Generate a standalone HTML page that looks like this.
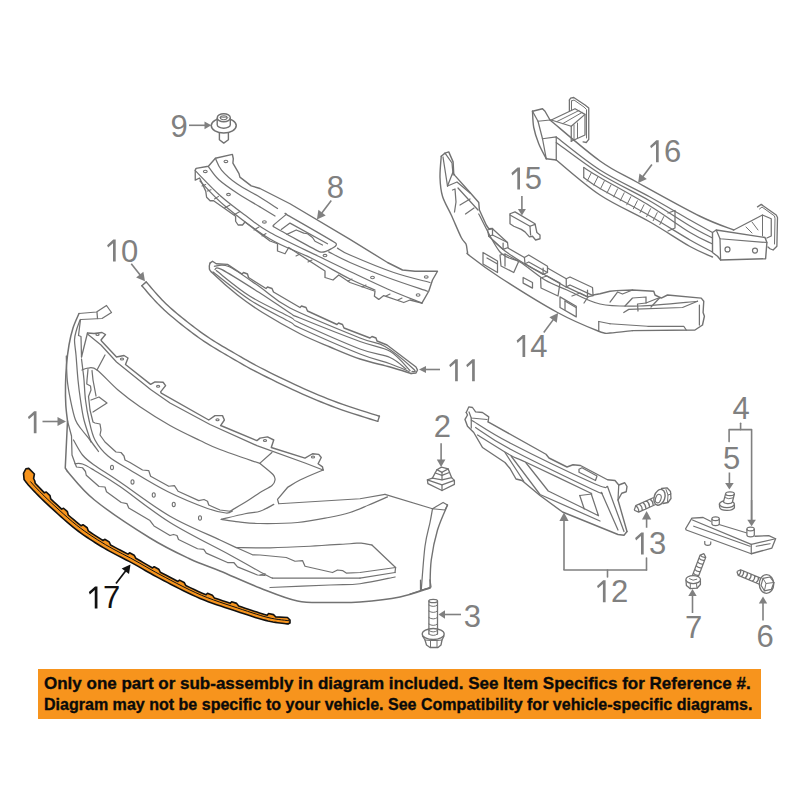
<!DOCTYPE html>
<html><head><meta charset="utf-8">
<style>
html,body{margin:0;padding:0;background:#fff;width:800px;height:800px;overflow:hidden}
svg{position:absolute;left:0;top:0}
#banner{position:absolute;left:38px;top:669px;width:723px;height:50px;background:#F7941D}
#banner div{position:absolute;left:6px;font:bold 17px "Liberation Sans",sans-serif;color:#0a0a0a;-webkit-text-stroke:0.35px #0a0a0a;white-space:nowrap;transform-origin:0 0}
</style></head><body>
<svg width="800" height="800" viewBox="0 0 800 800">
<path d="M42.5,421.5 L58.5,421.5" stroke="#808080" stroke-width="1.6" fill="none"/>
<path d="M66,421.5 L57.5,426.1 L57.5,416.9 Z" fill="#808080"/>
<path d="M116,583.5 L125.95,570.46" stroke="#111" stroke-width="1.7" fill="none"/>
<path d="M130.5,564.5 L129,574.05 L121.69,568.47 Z" fill="#111"/>
<path d="M189,125.3 L205.5,125.3" stroke="#808080" stroke-width="1.6" fill="none"/>
<path d="M211.3,125.3 L204.5,129.2 L204.5,121.4 Z" fill="#808080"/>
<path d="M131.25,263.75 L140.37,275.35" stroke="#808080" stroke-width="1.6" fill="none"/>
<path d="M145,281.25 L136.13,277.41 L143.37,271.72 Z" fill="#808080"/>
<path d="M331.25,200.6 L321.45,213.44" stroke="#808080" stroke-width="1.6" fill="none"/>
<path d="M316.9,219.4 L318.4,209.85 L325.71,215.43 Z" fill="#808080"/>
<path d="M25.9,468.75 L28.75,468.4 L34.4,474 L33.6,478.5 L34.8,481 L35.2,483.2 L36.39,484.47 L37.68,485.85 L39.07,487.32 L40.56,488.87 L44.38,492.84 L46.28,492.03 L50.02,495.64 L50.72,498.95 L54.06,502.04 L56.59,504.39 L61.67,509.11 L63.53,508.23 L67.41,511.7 L68.23,514.98 L70.81,517.23 L73.72,519.72 L76.58,522.08 L81.21,525.79 L82.97,524.72 L87.19,527.76 L88.35,530.94 L90.25,532.21 L93,534.05 L95.75,535.86 L98.51,537.62 L101.28,539.35 L103.04,540.49 L104.7,539.27 L109.16,541.93 L110.6,544.99 L115.01,547.39 L117.77,548.86 L120.55,550.3 L123.34,551.74 L127.97,554.11 L129.57,552.8 L134.16,555.24 L135.74,558.23 L140.23,560.81 L142.88,562.34 L145.49,563.85 L148.12,565.38 L152.56,567.97 L154.17,566.69 L158.73,569.19 L160.27,572.2 L162.7,573.47 L166.2,575.31 L169.92,577.27 L173.79,579.3 L177.93,581.49 L179.5,580.16 L184.14,582.51 L185.78,585.47 L190.12,587.6 L194.23,589.56 L198.27,591.42 L202.22,593.15 L206.08,594.79 L207.5,593.3 L212.36,595.13 L214.31,597.89 L218.43,599.33 L222.55,600.75 L226.63,602.11 L230.32,603.34 L231.66,601.77 L236.61,603.38 L238.69,606.05 L241.76,607.08 L245.08,608.2 L248.24,609.26 L251.25,610.26 L254.13,611.2 L256.88,612.09 L259.53,612.92 L262.08,613.69 L264.54,614.4 L267.24,615.28 L268.4,613.58 L273.5,614.62 L275.86,617.05 L275.6,616.9 L287.5,617.5 L290,620 L290,623.1 L287.5,624 L288.5,624 L287.31,623.85 L285.83,623.68 L284.09,623.5 L282.14,623.28 L280,623.04 L277.72,622.75 L275.35,622.41 L272.91,622.01 L270.45,621.54 L268,621 L265.56,620.39 L263.07,619.72 L260.53,619 L257.92,618.22 L255.22,617.39 L252.42,616.5 L249.52,615.55 L246.49,614.56 L243.32,613.5 L240,612.4 L236.49,611.24 L232.77,610.04 L228.88,608.78 L224.86,607.47 L220.75,606.1 L216.58,604.68 L212.38,603.2 L208.19,601.66 L204.05,600.06 L200,598.4 L195.95,596.64 L191.81,594.75 L187.63,592.76 L183.43,590.7 L179.26,588.61 L175.14,586.5 L171.13,584.42 L167.24,582.39 L163.52,580.44 L160,578.6 L156.71,576.86 L153.62,575.19 L150.7,573.57 L147.91,571.99 L145.21,570.45 L142.57,568.93 L139.96,567.43 L137.33,565.93 L134.66,564.42 L131.9,562.9 L129.09,561.39 L126.27,559.92 L123.46,558.47 L120.64,557.03 L117.83,555.59 L115.01,554.14 L112.2,552.66 L109.38,551.13 L106.57,549.55 L103.75,547.9 L100.93,546.2 L98.12,544.48 L95.3,542.73 L92.49,540.94 L89.67,539.11 L86.86,537.23 L84.04,535.29 L81.23,533.3 L78.41,531.24 L75.6,529.1 L72.74,526.83 L69.8,524.41 L66.81,521.88 L63.82,519.27 L60.85,516.63 L57.93,514 L55.11,511.42 L52.4,508.94 L49.86,506.58 L47.5,504.4 L45.31,502.35 L43.24,500.38 L41.28,498.47 L39.43,496.65 L37.7,494.9 L36.07,493.24 L34.55,491.66 L33.14,490.18 L31.82,488.79 L30.6,487.5 L29.5,486.31 L28.53,485.22 L27.68,484.22 L26.94,483.31 L26.29,482.49 L25.73,481.76 L25.24,481.11 L24.82,480.53 L24.44,480.03 L24.1,479.6 L23.5,473.4Z" fill="#F7941D" stroke="#111" stroke-width="1.6" stroke-linejoin="round" stroke-linecap="round"/>
<path d="M30.64,481.75 C31.1,482.27 32.29,483.67 33.41,484.88 C34.52,486.09 35.86,487.5 37.31,489.01 C38.76,490.53 40.36,492.19 42.12,493.95 C43.89,495.72 45.77,497.56 47.91,499.6 C50.05,501.64 52.38,503.79 54.96,506.17 C57.53,508.54 60.48,511.27 63.35,513.84 C66.22,516.4 69.31,519.15 72.19,521.55 C75.07,523.95 77.84,526.16 80.63,528.26 C83.42,530.36 86.16,532.27 88.93,534.17 C91.7,536.06 94.48,537.85 97.26,539.61 C100.04,541.38 102.85,543.12 105.62,544.75 C108.4,546.39 111.13,547.94 113.91,549.44 C116.69,550.95 119.48,552.34 122.29,553.8 C125.1,555.26 127.97,556.7 130.78,558.2 C133.58,559.7 136.4,561.28 139.1,562.81 C141.8,564.33 144.28,565.81 146.99,567.35 C149.69,568.9 152.3,570.41 155.33,572.07 C158.35,573.73 161.59,575.43 165.16,577.31 C168.73,579.19 172.75,581.33 176.75,583.38 C180.75,585.43 185.05,587.64 189.15,589.61 C193.25,591.58 197.29,593.47 201.35,595.19 C205.42,596.92 209.45,598.44 213.55,599.94 C217.65,601.44 221.94,602.85 225.94,604.2 C229.94,605.54 233.95,606.8 237.55,607.99 C241.15,609.18 244.44,610.29 247.56,611.32 C250.67,612.35 253.5,613.29 256.23,614.15 C258.97,615.01 261.49,615.79 263.97,616.47 C266.45,617.16 268.75,617.76 271.12,618.25 C273.49,618.75 275.95,619.12 278.17,619.44 C280.39,619.77 282.66,619.98 284.45,620.2 C286.24,620.41 288.18,620.64 288.92,620.73" fill="none" stroke="#111" stroke-width="1.0" stroke-linejoin="round" stroke-linecap="round"/>
<path d="M79,313.5 C78,315.92 74.67,322.75 73,328 C71.33,333.25 70.08,338.83 69,345 C67.92,351.17 67.08,358.33 66.5,365 C65.92,371.67 65.62,378.33 65.5,385 C65.38,391.67 65.47,399 65.8,405 C66.13,411 67.22,418.33 67.5,421" fill="none" stroke="#727272" stroke-width="1.5" stroke-linejoin="round" stroke-linecap="round"/>
<path d="M67.5,421 L65.25,468 L67.5,471.5" fill="none" stroke="#727272" stroke-width="1.5" stroke-linejoin="round" stroke-linecap="round"/>
<path d="M67.5,471.5 C72,476.25 80.75,488.92 94.5,500 C108.25,511.08 134.08,528.17 150,538 C165.92,547.83 178.33,553.5 190,559 C201.67,564.5 208.33,566.17 220,571 C231.67,575.83 247.08,583 260,588 C272.92,593 285.83,598.58 297.5,601 C309.17,603.42 319.58,602.33 330,602.5 C340.42,602.67 348.33,602.92 360,602 C371.67,601.08 388.33,599.33 400,597 C411.67,594.67 425,589.5 430,588" fill="none" stroke="#727272" stroke-width="1.5" stroke-linejoin="round" stroke-linecap="round"/>
<path d="M79,313.5 L96.5,312 L106.5,305.5 L111.5,312.5 L102,318.5 L81,319.5" fill="none" stroke="#727272" stroke-width="1.25" stroke-linejoin="round" stroke-linecap="round"/>
<path d="M97,312.5 L97.5,318.5" fill="none" stroke="#727272" stroke-width="1.25" stroke-linejoin="round" stroke-linecap="round"/>
<path d="M80.5,319.5 L78.5,335.5 L81,336.5 L81.5,357" fill="none" stroke="#727272" stroke-width="1.25" stroke-linejoin="round" stroke-linecap="round"/>
<path d="M87.5,333 L81.5,357" fill="none" stroke="#727272" stroke-width="1.25" stroke-linejoin="round" stroke-linecap="round"/>
<path d="M80,320 C79.42,321.67 77.42,326.67 76.5,330 C75.58,333.33 74.58,335.83 74.5,340 C74.42,344.17 75.42,348.33 76,355 C76.58,361.67 77.25,372.5 78,380 C78.75,387.5 79.5,393.33 80.5,400 C81.5,406.67 82.25,413 84,420 C85.75,427 89.83,438.33 91,442" fill="none" stroke="#727272" stroke-width="1.25" stroke-linejoin="round" stroke-linecap="round"/>
<path d="M66.3,356 C66.46,360 66.55,372.67 67.25,380 C67.95,387.33 69.12,393.33 70.5,400 C71.88,406.67 73.58,415 75.5,420 C77.42,425 79.58,426.67 82,430 C84.42,433.33 87.25,436.42 90,440 C92.75,443.58 97.08,449.58 98.5,451.5" fill="none" stroke="#727272" stroke-width="1.25" stroke-linejoin="round" stroke-linecap="round"/>
<path d="M81.5,359 C81.75,361 82.58,367.5 83,371 C83.42,374.5 83.58,375.17 84,380 C84.42,384.83 84.67,393.33 85.5,400 C86.33,406.67 87.42,413.33 89,420 C90.58,426.67 91.83,434 95,440 C98.17,446 102.17,451 108,456 C113.83,461 120.08,464.08 130,470 C139.92,475.92 154.58,485.08 167.5,491.5 C180.42,497.92 197.75,504.92 207.5,508.5 C217.25,512.08 221.83,512.58 226,513 C230.17,513.42 231.42,511.33 232.5,511" fill="none" stroke="#727272" stroke-width="1.25" stroke-linejoin="round" stroke-linecap="round"/>
<path d="M67.5,421 L71.5,436 L72,455 L75,463.25 L76.5,467 L82.5,467.75 L85.5,471.5 L86.25,475.25 L99,486.5 L105,487 L106.5,491.75 L121.25,502.5 L126.9,503.6 L128.75,508 L150,520.5 L153,524.5 L154,526 L170,535.5 L173.5,534.5 L177,535.5 L178.5,539.5 L197.5,548.75 L203.75,549.4 L206.25,553.1 L227.5,562.5 L233.75,562.5 L237.5,566.9 L257.5,575 L265,575.5" fill="none" stroke="#727272" stroke-width="1.25" stroke-linejoin="round" stroke-linecap="round"/>
<path d="M88,369.5 L87,380 L86.75,384 L90.5,386 L91,390 L88.5,396.5 L90,410 L93,422 L95,423 L100,424 L101,430 L100,435 L105,442 L116,452 L121,452.5 L124,456 L125,460 L130,462.5 L142.5,470 L148.75,470.6 L150.6,476.25 L168.75,486.25 L174.4,485.6 L178.1,491.25 L198.75,500.6 L204,499.5 L207.5,501.25 L208.75,505 L220,510 L230,511.25" fill="none" stroke="#727272" stroke-width="1.25" stroke-linejoin="round" stroke-linecap="round"/>
<path d="M230,511.25 C233.12,509.38 243.75,503.12 248.75,500 C253.75,496.88 256.12,494.92 260,492.5 C263.88,490.08 269.5,487.58 272,485.5 C274.5,483.42 274.83,481.83 275,480 C275.17,478.17 275.5,477.25 273,474.5 C270.5,471.75 262.17,465.33 260,463.5" fill="none" stroke="#727272" stroke-width="1.25" stroke-linejoin="round" stroke-linecap="round"/>
<path d="M82,370 C83,369.67 85.5,368 88,368 C90.5,368 92,366.33 97,370 C102,373.67 110.83,383.88 118,390 C125.17,396.12 131.33,400.83 140,406.75 C148.67,412.67 160,419.88 170,425.5 C180,431.12 191.67,436.5 200,440.5 C208.33,444.5 210,445.67 220,449.5 C230,453.33 253.33,461.17 260,463.5" fill="none" stroke="#727272" stroke-width="1.25" stroke-linejoin="round" stroke-linecap="round"/>
<path d="M105,355 L97,370" fill="none" stroke="#727272" stroke-width="1.25" stroke-linejoin="round" stroke-linecap="round"/>
<path d="M92,370.5 L93,380 L96,396" fill="none" stroke="#727272" stroke-width="1.25" stroke-linejoin="round" stroke-linecap="round"/>
<path d="M91,400 L99,397 L107,403 L93,412" fill="none" stroke="#727272" stroke-width="1.25" stroke-linejoin="round" stroke-linecap="round"/>
<path d="M87.5,333 L94,333.5 L102,332.5 L105.5,334.5 L101,340 L101.5,341 L116.5,357 L124,355.5 L128,358 L125.5,364.5 L150.6,384.4 L155,381.9 L163.1,382.25 L165.6,385.6 L160.6,391.9 L161.25,393.1 L208.75,420 L215,415.6 L222.5,415.6 L224.4,420 L220.6,425.6 L222.5,426.25 L256.9,440.6 L260,438.1 L267.5,436.9 L273.75,440 L271.25,447.5 L305,458.1 L312.5,453.75 L318.75,454.4 L321.25,457.5 L318.1,463.75 L322.5,466.9 L323.1,470" fill="none" stroke="#727272" stroke-width="1.4" stroke-linejoin="round" stroke-linecap="round"/>
<ellipse cx="97.5" cy="334.5" rx="1.6" ry="1.0" fill="none" stroke="#727272" stroke-width="1.1"/>
<ellipse cx="122" cy="359" rx="1.6" ry="1.0" fill="none" stroke="#727272" stroke-width="1.1"/>
<ellipse cx="158.1" cy="386.25" rx="1.6" ry="1.0" fill="none" stroke="#727272" stroke-width="1.1"/>
<ellipse cx="217.5" cy="419.75" rx="1.6" ry="1.0" fill="none" stroke="#727272" stroke-width="1.1"/>
<ellipse cx="265" cy="440.5" rx="1.6" ry="1.0" fill="none" stroke="#727272" stroke-width="1.1"/>
<ellipse cx="313" cy="457" rx="1.6" ry="1.0" fill="none" stroke="#727272" stroke-width="1.1"/>
<path d="M87.5,334 L101,345 L116.5,362 L150.6,389.4 L170,403 L210,424.5 L256.9,445.6 L305,463 L323.1,470" fill="none" stroke="#727272" stroke-width="1.25" stroke-linejoin="round" stroke-linecap="round"/>
<path d="M260,463.1 L271.9,452.5" fill="none" stroke="#727272" stroke-width="1.25" stroke-linejoin="round" stroke-linecap="round"/>
<path d="M323.1,470 C319.25,471.67 305.93,477.08 300,480 C294.07,482.92 289.58,486.25 287.5,487.5" fill="none" stroke="#727272" stroke-width="1.25" stroke-linejoin="round" stroke-linecap="round"/>
<path d="M287.5,487.5 L277.5,499.4 L278.75,503.75 L360,498.75 L385,494.4" fill="none" stroke="#727272" stroke-width="1.25" stroke-linejoin="round" stroke-linecap="round"/>
<path d="M385,494.4 L432.5,508.75 L443.1,502.5 L447.5,505 L445,510 L432.5,508.75" fill="none" stroke="#727272" stroke-width="1.25" stroke-linejoin="round" stroke-linecap="round"/>
<path d="M221.25,519.4 C225.21,518.46 238.54,515.11 245,513.75 C251.46,512.39 255.21,512.81 260,511.25 C264.79,509.69 271.46,505.54 273.75,504.4" fill="none" stroke="#727272" stroke-width="1.25" stroke-linejoin="round" stroke-linecap="round"/>
<path d="M221.25,519.4 C224.17,519.82 232.29,521.22 238.75,521.9 C245.21,522.58 250.21,523.4 260,523.5 C269.79,523.6 286.04,523.5 297.5,522.5 C308.96,521.5 320,519.17 328.75,517.5 C337.5,515.83 343.33,514.58 350,512.5 C356.67,510.42 362.5,507.6 368.75,505 C375,502.4 384.38,498.25 387.5,496.9" fill="none" stroke="#727272" stroke-width="1.25" stroke-linejoin="round" stroke-linecap="round"/>
<path d="M432.5,508.75 C432.08,511.04 431.25,516.25 430,522.5 C428.75,528.75 426.46,535 425,546.25 C423.54,557.5 421.88,582.71 421.25,590" fill="none" stroke="#727272" stroke-width="1.25" stroke-linejoin="round" stroke-linecap="round"/>
<path d="M447.5,505 C445.83,509.17 440.21,520.83 437.5,530 C434.79,539.17 432.5,550.42 431.25,560 C430,569.58 430.21,582.92 430,587.5" fill="none" stroke="#727272" stroke-width="1.4" stroke-linejoin="round" stroke-linecap="round"/>
<path d="M421.25,590 L430,588" fill="none" stroke="#727272" stroke-width="1.25" stroke-linejoin="round" stroke-linecap="round"/>
<path d="M73.5,440 C75,442.5 79.12,450.88 82.5,455 C85.88,459.12 87.5,460.25 93.75,464.75 C100,469.25 107.29,473.42 120,482 C132.71,490.58 153.33,506.58 170,516.25 C186.67,525.92 209,534.79 220,540 C231,545.21 233.33,546.25 236,547.5" fill="none" stroke="#727272" stroke-width="1.25" stroke-linejoin="round" stroke-linecap="round"/>
<path d="M236,547.5 C241.67,547.55 257.67,548.01 270,547.8 C282.33,547.59 296.67,546.92 310,546.25 C323.33,545.58 341.46,544.27 350,543.75 C358.54,543.23 357.6,542.89 361.25,543.1 C364.9,543.31 370.12,544.68 371.9,545" fill="none" stroke="#727272" stroke-width="1.25" stroke-linejoin="round" stroke-linecap="round"/>
<path d="M75,463.6 C76.25,463.67 79.38,462.93 82.5,464 C85.62,465.07 87.5,466.25 93.75,470 C100,473.75 107.29,477.75 120,486.5 C132.71,495.25 151.67,511.08 170,522.5 C188.33,533.92 214.17,546.33 230,555 C245.83,563.67 257.92,570.65 265,574.5 C272.08,578.35 271.25,577.5 272.5,578.1" fill="none" stroke="#727272" stroke-width="1.25" stroke-linejoin="round" stroke-linecap="round"/>
<path d="M272.5,578.1 L360,578.1" fill="none" stroke="#727272" stroke-width="1.25" stroke-linejoin="round" stroke-linecap="round"/>
<path d="M260,575 L265,573.75" fill="none" stroke="#727272" stroke-width="1.25" stroke-linejoin="round" stroke-linecap="round"/>
<path d="M236.25,547.5 L252.5,554.8 L260,555 L286.25,557.5 L295,561.25 L302.5,560.6 L305,566.25 L332.5,572.5 L337.5,570 L342.5,570.6 L346.25,573.1 L360,572.5 L395.6,567.5" fill="none" stroke="#727272" stroke-width="1.25" stroke-linejoin="round" stroke-linecap="round"/>
<path d="M371.9,545 L395.6,567.5 L395,572.5" fill="none" stroke="#727272" stroke-width="1.25" stroke-linejoin="round" stroke-linecap="round"/>
<path d="M360,578.1 L395,572.5" fill="none" stroke="#727272" stroke-width="1.25" stroke-linejoin="round" stroke-linecap="round"/>
<path d="M270,587.5 C280,587.08 315,585.62 330,585 C345,584.38 349.17,585.08 360,583.75 C370.83,582.42 389.17,578.12 395,577" fill="none" stroke="#727272" stroke-width="1.25" stroke-linejoin="round" stroke-linecap="round"/>
<ellipse cx="112" cy="467.5" rx="1.5" ry="2.2" fill="none" stroke="#727272" stroke-width="1.1"/>
<ellipse cx="132.5" cy="481.9" rx="1.5" ry="2.2" fill="none" stroke="#727272" stroke-width="1.1"/>
<ellipse cx="153.75" cy="495" rx="1.5" ry="2.2" fill="none" stroke="#727272" stroke-width="1.1"/>
<ellipse cx="173.75" cy="504.4" rx="1.5" ry="2.2" fill="none" stroke="#727272" stroke-width="1.1"/>
<ellipse cx="200" cy="518" rx="1.5" ry="2.2" fill="none" stroke="#727272" stroke-width="1.1"/>
<ellipse cx="223.75" cy="125.6" rx="12.5" ry="7.5" fill="none" stroke="#727272" stroke-width="1.5"/>
<path d="M217.2,118 L217.2,124.7 A6.55,3.5 0 0 0 230.3,124.7 L230.3,118" fill="#fff" stroke="#727272" stroke-width="1.4"/>
<ellipse cx="223.75" cy="117.8" rx="6.55" ry="4" fill="none" stroke="#727272" stroke-width="1.4"/>
<ellipse cx="223.75" cy="117.8" rx="3.4" ry="1.9" fill="none" stroke="#727272" stroke-width="1.1"/>
<path d="M219.4,133.2 L219.4,139.7 L223.75,143.1 L228.4,139.7 L228.4,133.2" fill="none" stroke="#727272" stroke-width="1.4" stroke-linejoin="round" stroke-linecap="round"/>
<path d="M146.25,281.9 L147.15,282.96 L148.36,284.38 L149.78,286.07 L151.38,287.95 L153.06,289.92 L154.77,291.89 L156.44,293.78 L158,295.5 L159.43,297.05 L160.79,298.51 L162.13,299.92 L163.48,301.32 L164.9,302.74 L166.43,304.22 L168.12,305.8 L170,307.5 L172.12,309.36 L174.44,311.36 L176.91,313.45 L179.5,315.59 L182.15,317.76 L184.81,319.91 L187.45,322 L190,324 L192.47,325.9 L194.88,327.75 L197.28,329.56 L199.69,331.34 L202.13,333.11 L204.65,334.89 L207.26,336.68 L210,338.5 L212.89,340.36 L215.9,342.24 L219.01,344.13 L222.19,346.03 L225.41,347.93 L228.63,349.81 L231.84,351.67 L235,353.5 L238.02,355.26 L240.9,356.94 L243.72,358.59 L246.56,360.22 L249.53,361.9 L252.7,363.64 L256.16,365.5 L260,367.5 L264.3,369.69 L269,372.06 L274.01,374.55 L279.22,377.1 L284.52,379.67 L289.82,382.19 L295.02,384.62 L300,386.9 L304.78,389.04 L309.45,391.11 L314.05,393.11 L318.63,395.05 L323.23,396.95 L327.87,398.82 L332.62,400.66 L337.5,402.5 L342.81,404.4 L348.65,406.39 L354.73,408.4 L360.79,410.35 L366.56,412.18 L371.77,413.82 L376.14,415.2 L379.4,416.25" fill="none" stroke="#727272" stroke-width="1.4" stroke-linejoin="round" stroke-linecap="round"/>
<path d="M141.84,285.67 L142.74,286.71 L143.93,288.12 L145.37,289.81 L146.98,291.7 L148.68,293.69 L150.43,295.69 L152.15,297.63 L153.76,299.39 L155.22,300.96 L156.61,302.44 L157.98,303.89 L159.4,305.34 L160.88,306.82 L162.49,308.37 L164.25,310.01 L166.2,311.76 L168.38,313.67 L170.74,315.7 L173.26,317.81 L175.88,319.98 L178.56,322.17 L181.26,324.34 L183.93,326.46 L186.52,328.47 L189.02,330.39 L191.46,332.26 L193.9,334.09 L196.35,335.9 L198.86,337.7 L201.43,339.51 L204.11,341.34 L206.92,343.2 L209.88,345.1 L212.95,347.01 L216.11,348.93 L219.33,350.85 L222.58,352.75 L225.82,354.64 L229.04,356.5 L232.2,358.32 L235.21,360.07 L238.09,361.75 L240.93,363.4 L243.81,365.05 L246.82,366.75 L250.05,368.52 L253.57,370.4 L257.47,372.42 L261.8,374.62 L266.54,377 L271.57,379.49 L276.81,382.05 L282.14,384.63 L287.48,387.16 L292.71,389.61 L297.73,391.9 L302.54,394.05 L307.25,396.13 L311.89,398.14 L316.52,400.1 L321.16,402.01 L325.87,403.89 L330.67,405.76 L335.63,407.61 L341.02,409.54 L346.92,411.54 L353.05,413.56 L359.14,415.51 L364.93,417.35 L370.14,418.98 L374.5,420.35 L377.75,421.39" fill="none" stroke="#727272" stroke-width="1.4" stroke-linejoin="round" stroke-linecap="round"/>
<path d="M379.4,416.25 L377.75,421.39" fill="none" stroke="#727272" stroke-width="1.4" stroke-linejoin="round" stroke-linecap="round"/>
<path d="M146.25,281.9 L141.84,285.67" fill="none" stroke="#727272" stroke-width="1.4" stroke-linejoin="round" stroke-linecap="round"/>
<path d="M210,263.1 L212.5,261.25 L216.25,263.75 L227.5,264.4 L242,274 L243.5,272.5 L247.5,274 L248.5,277.5 L266,288.5 L267.5,287 L272,288.5 L273.5,292 L300,307.5 L301.5,306 L306,307.5 L307.5,311 L337,324.5 L338.5,323 L342.5,324.5 L344,328 L370,338 L372,336.5 L376,338 L377,341 L387,345 L416,367 L417.5,370 L416,373 L411,373.5" fill="none" stroke="#727272" stroke-width="1.4" stroke-linejoin="round" stroke-linecap="round"/>
<path d="M411,373.5 C407.5,372.42 398.5,369.42 390,367 C381.5,364.58 370,362.33 360,359 C350,355.67 340,351.21 330,347 C320,342.79 311.25,339.5 300,333.75 C288.75,328 272.92,318.96 262.5,312.5 C252.08,306.04 245.83,301.57 237.5,295 C229.17,288.43 217.18,277.68 212.5,273.1 C207.82,268.52 209.82,269.17 209.4,267.5 C208.98,265.83 209.9,263.83 210,263.1" fill="none" stroke="#727272" stroke-width="1.4" stroke-linejoin="round" stroke-linecap="round"/>
<path d="M214.4,266.25 C216.79,266.29 221.15,263.04 228.75,266.5 C236.35,269.96 249.79,280.08 260,287 C270.21,293.92 273.33,299.5 290,308 C306.67,316.5 344.17,331.58 360,338 C375.83,344.42 376.08,341.33 385,346.5 C393.92,351.67 409,364.83 413.5,369 C418,373.17 412.25,371.08 412,371.5" fill="none" stroke="#727272" stroke-width="1.25" stroke-linejoin="round" stroke-linecap="round"/>
<path d="M215,269.4 C216.17,269.43 214.5,265.67 222,269.6 C229.5,273.53 248.67,285.77 260,293 C271.33,300.23 283.33,308.83 290,313 C296.67,317.17 288.33,313.25 300,318 C311.67,322.75 345,335.96 360,341.5 C375,347.04 381.67,346.42 390,351.25 C398.33,356.08 406.67,367.29 410,370.5" fill="none" stroke="#727272" stroke-width="1.25" stroke-linejoin="round" stroke-linecap="round"/>
<path d="M216.25,270.6 C221.88,274.88 237.71,288.52 250,296.25 C262.29,303.98 281.67,312.54 290,317 C298.33,321.46 288.33,317.67 300,323 C311.67,328.33 345,343.25 360,349 C375,354.75 382.33,354.17 390,357.5 C397.67,360.83 403.33,367.08 406,369" fill="none" stroke="#727272" stroke-width="1.25" stroke-linejoin="round" stroke-linecap="round"/>
<path d="M213,272 C219.17,276.67 237.17,291.67 250,300 C262.83,308.33 281.67,317.33 290,322 C298.33,326.67 288.33,322.67 300,328 C311.67,333.33 345,348.04 360,354 C375,359.96 381.83,360.83 390,363.75 C398.17,366.67 405.83,370.21 409,371.5" fill="none" stroke="#727272" stroke-width="1.25" stroke-linejoin="round" stroke-linecap="round"/>
<path d="M440,369.5 L425,369.5" stroke="#808080" stroke-width="1.6" fill="none"/>
<path d="M419,369.5 L426,365.9 L426,373.1 Z" fill="#808080"/>
<path d="M195.25,170.1 L196.1,168.4 L208.4,166.2 L215.4,158.3 L232.4,154.4 L233.3,158.75 L232.9,163.1 L239,173.6 L239.9,177.1 L251.25,185.9 L260,188.5 L290,203.75 L350,239.4 L387.5,262.5 L402.5,270 L415,271.25 L437.5,271.25 L432.5,280 L428.75,291.25 L421.9,303.1" fill="none" stroke="#727272" stroke-width="1.4" stroke-linejoin="round" stroke-linecap="round"/>
<path d="M215.4,158.3 C216.42,160.27 217.86,165.8 221.5,170.1 C225.14,174.4 230.83,179.57 237.25,184.1 C243.67,188.62 253.29,193.18 260,197.25 C266.71,201.32 274.58,206.62 277.5,208.5" fill="none" stroke="#727272" stroke-width="1.25" stroke-linejoin="round" stroke-linecap="round"/>
<path d="M208.4,166.6 C210.15,168.79 213.95,175.22 218.9,179.75 C223.85,184.28 231.25,189.22 238.1,193.75 C244.95,198.28 253.85,203.19 260,206.9 C266.15,210.61 272.5,214.48 275,216" fill="none" stroke="#727272" stroke-width="1.25" stroke-linejoin="round" stroke-linecap="round"/>
<path d="M195.25,170.6 C199.47,174.83 211.99,188.35 220.6,196 C229.21,203.65 238.67,210.42 246.9,216.5 C255.13,222.58 257.82,225.75 270,232.5 C282.18,239.25 306.67,250.5 320,257 C333.33,263.5 338.75,266.17 350,271.5 C361.25,276.83 375.52,283.73 387.5,289 C399.48,294.27 416.17,300.75 421.9,303.1" fill="none" stroke="#727272" stroke-width="1.25" stroke-linejoin="round" stroke-linecap="round"/>
<path d="M337.5,248.1 C339.58,249.25 340.62,250.93 350,255 C359.38,259.07 380.42,267.92 393.75,272.5 C407.08,277.08 423.96,280.83 430,282.5" fill="none" stroke="#727272" stroke-width="1.25" stroke-linejoin="round" stroke-linecap="round"/>
<path d="M328.75,251.9 C332.29,253.67 340.21,258.23 350,262.5 C359.79,266.77 374.58,272.71 387.5,277.5 C400.42,282.29 420.83,288.96 427.5,291.25" fill="none" stroke="#727272" stroke-width="1.25" stroke-linejoin="round" stroke-linecap="round"/>
<path d="M200,181 C204.17,185.17 213.33,196.33 225,206 C236.67,215.67 255.67,230.33 270,239 C284.33,247.67 297.67,251.33 311,258 C324.33,264.67 339.33,273.67 350,279 C360.67,284.33 370.83,288.17 375,290" fill="none" stroke="#727272" stroke-width="1.25" stroke-linejoin="round" stroke-linecap="round"/>
<ellipse cx="205.3" cy="171.4" rx="1.9" ry="1.2" fill="none" stroke="#727272" stroke-width="1.1"/>
<ellipse cx="225.9" cy="161.4" rx="1.9" ry="1.2" fill="none" stroke="#727272" stroke-width="1.1"/>
<ellipse cx="228.5" cy="194.6" rx="1.9" ry="1.2" fill="none" stroke="#727272" stroke-width="1.1"/>
<ellipse cx="264.4" cy="221.9" rx="1.9" ry="1.2" fill="none" stroke="#727272" stroke-width="1.1"/>
<ellipse cx="325" cy="255.6" rx="1.9" ry="1.2" fill="none" stroke="#727272" stroke-width="1.1"/>
<ellipse cx="372.5" cy="277.5" rx="1.9" ry="1.2" fill="none" stroke="#727272" stroke-width="1.1"/>
<ellipse cx="426.25" cy="276.9" rx="1.9" ry="1.2" fill="none" stroke="#727272" stroke-width="1.1"/>
<ellipse cx="418.1" cy="295" rx="1.9" ry="1.2" fill="none" stroke="#727272" stroke-width="1.1"/>
<path d="M286.25,214.4 C289.54,216.31 332.6,240.81 335.6,243.1 C338.6,245.39 332.29,248.16 331.25,248.75 C330.21,249.34 323.75,253.32 320,251.9 C316.25,250.48 278.08,229.29 275,227.5 C271.92,225.71 273,225.87 273.75,225 C274.5,224.13 285.42,215.11 286.25,214.4 C287.08,213.69 282.96,212.49 286.25,214.4Z" fill="none" stroke="#727272" stroke-width="1.25" stroke-linejoin="round" stroke-linecap="round"/>
<path d="M281.25,229.4 L290,223.1 L327.5,243.75" fill="none" stroke="#727272" stroke-width="1.25" stroke-linejoin="round" stroke-linecap="round"/>
<path d="M286.9,234.4 L296.25,230 L303.75,233.1 L307.5,233.75 L312.5,237.5 L315,241.25 L322.5,245" fill="none" stroke="#727272" stroke-width="1.25" stroke-linejoin="round" stroke-linecap="round"/>
<path d="M195.25,170.6 L195.25,180.2 L199.6,178 L205.75,191.1 L206.6,197.25 L210.1,200.75 L213.6,200.75 L235.6,216.25 L235.6,221.25 L238.1,225 L242.5,225 L245,222 L270,241 L277.5,243.75 L277.5,251 L285,253.75 L288.75,247.5 L325,271 L325,277.5 L333,280 L338.75,275 L350,282.5 L375,291.25 L374.4,296.25 L378.75,299.4 L383.75,295.6 L403.75,302.5 L410,300 L421.9,303.1" fill="none" stroke="#727272" stroke-width="1.3" stroke-linejoin="round" stroke-linecap="round"/>
<path d="M202,186 L205.6,184.6" fill="none" stroke="#727272" stroke-width="1.1" stroke-linejoin="round" stroke-linecap="round"/>
<path d="M207.5,191 L211,189.8" fill="none" stroke="#727272" stroke-width="1.1" stroke-linejoin="round" stroke-linecap="round"/>
<path d="M214.5,199 L218.5,196.4" fill="none" stroke="#727272" stroke-width="1.1" stroke-linejoin="round" stroke-linecap="round"/>
<path d="M224.5,208 L230,205" fill="none" stroke="#727272" stroke-width="1.1" stroke-linejoin="round" stroke-linecap="round"/>
<path d="M234.5,214.5 L240,211.5" fill="none" stroke="#727272" stroke-width="1.1" stroke-linejoin="round" stroke-linecap="round"/>
<path d="M254,230 L259,227" fill="none" stroke="#727272" stroke-width="1.1" stroke-linejoin="round" stroke-linecap="round"/>
<path d="M262,236 L266,233.5" fill="none" stroke="#727272" stroke-width="1.1" stroke-linejoin="round" stroke-linecap="round"/>
<path d="M296,256 L300,254" fill="none" stroke="#727272" stroke-width="1.1" stroke-linejoin="round" stroke-linecap="round"/>
<path d="M308,262 L312,260" fill="none" stroke="#727272" stroke-width="1.1" stroke-linejoin="round" stroke-linecap="round"/>
<path d="M348,281 L352,279" fill="none" stroke="#727272" stroke-width="1.1" stroke-linejoin="round" stroke-linecap="round"/>
<path d="M362,287 L366,285" fill="none" stroke="#727272" stroke-width="1.1" stroke-linejoin="round" stroke-linecap="round"/>
<path d="M386,296 L390,294" fill="none" stroke="#727272" stroke-width="1.1" stroke-linejoin="round" stroke-linecap="round"/>
<path d="M398,300 L402,298" fill="none" stroke="#727272" stroke-width="1.1" stroke-linejoin="round" stroke-linecap="round"/>
<path d="M532.5,111.25 L542.5,108.75 L545,111.25 L550,120" fill="none" stroke="#727272" stroke-width="1.4" stroke-linejoin="round" stroke-linecap="round"/>
<path d="M532.5,111.25 C532.71,113.96 532.71,122.08 533.75,127.5 C534.79,132.92 536.67,138.54 538.75,143.75 C540.83,148.96 545,156.25 546.25,158.75" fill="none" stroke="#727272" stroke-width="1.4" stroke-linejoin="round" stroke-linecap="round"/>
<path d="M546.25,158.75 L556.25,160" fill="none" stroke="#727272" stroke-width="1.4" stroke-linejoin="round" stroke-linecap="round"/>
<path d="M542.5,138.75 L556.25,136.9 L556.25,160" fill="none" stroke="#727272" stroke-width="1.25" stroke-linejoin="round" stroke-linecap="round"/>
<path d="M542.5,138.75 L546.25,158.75" fill="none" stroke="#727272" stroke-width="1.25" stroke-linejoin="round" stroke-linecap="round"/>
<path d="M532.5,111.25 L538,121.25 L550,120" fill="none" stroke="#727272" stroke-width="1.25" stroke-linejoin="round" stroke-linecap="round"/>
<path d="M538,121.25 L542.5,138.75" fill="none" stroke="#727272" stroke-width="1.25" stroke-linejoin="round" stroke-linecap="round"/>
<path d="M550,120 C558.33,126.83 585.42,150.58 600,161 C614.58,171.42 620.83,173.29 637.5,182.5 C654.17,191.71 683.96,208.33 700,216.25 C716.04,224.17 728.12,227.71 733.75,230" fill="none" stroke="#727272" stroke-width="1.4" stroke-linejoin="round" stroke-linecap="round"/>
<path d="M556.25,137 C563.54,142.5 584.38,160 600,170 C615.62,180 635,188.67 650,197 C665,205.33 679.58,214.08 690,220 C700.42,225.92 708.75,230.42 712.5,232.5" fill="none" stroke="#727272" stroke-width="1.25" stroke-linejoin="round" stroke-linecap="round"/>
<path d="M556.25,142.5 C563.54,147.71 584.38,164 600,173.75 C615.62,183.5 635,192.29 650,201 C665,209.71 679.58,219.83 690,226 C700.42,232.17 708.75,236 712.5,238" fill="none" stroke="#727272" stroke-width="1.25" stroke-linejoin="round" stroke-linecap="round"/>
<path d="M583.75,167.5 C586.46,169.17 588.96,171.08 600,177.5 C611.04,183.92 635,196.83 650,206 C665,215.17 679.58,226.17 690,232.5 C700.42,238.83 708.75,242.08 712.5,244" fill="none" stroke="#727272" stroke-width="1.25" stroke-linejoin="round" stroke-linecap="round"/>
<path d="M583.75,177.5 C586.46,179.33 588.96,182.08 600,188.5 C611.04,194.92 635,207.42 650,216 C665,224.58 679.58,234 690,240 C700.42,246 708.75,250 712.5,252" fill="none" stroke="#727272" stroke-width="1.25" stroke-linejoin="round" stroke-linecap="round"/>
<path d="M556.25,160 C563.54,165.83 584.38,184.67 600,195 C615.62,205.33 635,213.42 650,222 C665,230.58 679.58,240.67 690,246.5 C700.42,252.33 708.75,255.25 712.5,257" fill="none" stroke="#727272" stroke-width="1.4" stroke-linejoin="round" stroke-linecap="round"/>
<path d="M583.75,167.5 L583.75,177.5" fill="none" stroke="#727272" stroke-width="1.25" stroke-linejoin="round" stroke-linecap="round"/>
<path d="M591.2,173.05 L587.2,181.05" fill="none" stroke="#727272" stroke-width="1.0" stroke-linejoin="round" stroke-linecap="round"/>
<path d="M597.8,177.01 L593.8,185.01" fill="none" stroke="#727272" stroke-width="1.0" stroke-linejoin="round" stroke-linecap="round"/>
<path d="M604.4,180.97 L600.4,188.97" fill="none" stroke="#727272" stroke-width="1.0" stroke-linejoin="round" stroke-linecap="round"/>
<path d="M611,184.93 L607,192.93" fill="none" stroke="#727272" stroke-width="1.0" stroke-linejoin="round" stroke-linecap="round"/>
<path d="M617.6,188.89 L613.6,196.89" fill="none" stroke="#727272" stroke-width="1.0" stroke-linejoin="round" stroke-linecap="round"/>
<path d="M624.2,192.85 L620.2,200.85" fill="none" stroke="#727272" stroke-width="1.0" stroke-linejoin="round" stroke-linecap="round"/>
<path d="M630.8,196.81 L626.8,204.81" fill="none" stroke="#727272" stroke-width="1.0" stroke-linejoin="round" stroke-linecap="round"/>
<path d="M637.4,200.77 L633.4,208.77" fill="none" stroke="#727272" stroke-width="1.0" stroke-linejoin="round" stroke-linecap="round"/>
<path d="M644,204.73 L640,212.73" fill="none" stroke="#727272" stroke-width="1.0" stroke-linejoin="round" stroke-linecap="round"/>
<path d="M650.6,208.69 L646.6,216.69" fill="none" stroke="#727272" stroke-width="1.0" stroke-linejoin="round" stroke-linecap="round"/>
<path d="M657.2,212.65 L653.2,220.65" fill="none" stroke="#727272" stroke-width="1.0" stroke-linejoin="round" stroke-linecap="round"/>
<path d="M663.8,216.61 L659.8,224.61" fill="none" stroke="#727272" stroke-width="1.0" stroke-linejoin="round" stroke-linecap="round"/>
<path d="M668,213 L675,210.5 L675,228 L668,231" fill="none" stroke="#727272" stroke-width="1.25" stroke-linejoin="round" stroke-linecap="round"/>
<path d="M569.4,100 L570.6,98.1 L573.75,97.5 L585,105 L588.75,108.1 L588.75,139.4 L586.25,142.5 L583.1,141.9" fill="none" stroke="#727272" stroke-width="1.3" stroke-linejoin="round" stroke-linecap="round"/>
<path d="M571.5,101 L574,100 L584,107 L586.5,109.5 L586.5,138" fill="none" stroke="#727272" stroke-width="1.0" stroke-linejoin="round" stroke-linecap="round"/>
<path d="M551.25,120 L575,108.75 L585,114.4 L585,135 L571.25,141.25" fill="none" stroke="#727272" stroke-width="1.25" stroke-linejoin="round" stroke-linecap="round"/>
<path d="M551.25,120 L571.25,126.25 L571.25,141.25" fill="none" stroke="#727272" stroke-width="1.25" stroke-linejoin="round" stroke-linecap="round"/>
<path d="M569.4,100 L569.4,111" fill="none" stroke="#727272" stroke-width="1.3" stroke-linejoin="round" stroke-linecap="round"/>
<path d="M571.5,101 L571.5,110" fill="none" stroke="#727272" stroke-width="1.0" stroke-linejoin="round" stroke-linecap="round"/>
<path d="M557,121.5 L579,110.5" fill="none" stroke="#727272" stroke-width="1.0" stroke-linejoin="round" stroke-linecap="round"/>
<path d="M563,123.5 L582,112.5" fill="none" stroke="#727272" stroke-width="1.0" stroke-linejoin="round" stroke-linecap="round"/>
<path d="M571.25,126.25 L585,114.4" fill="none" stroke="#727272" stroke-width="1.25" stroke-linejoin="round" stroke-linecap="round"/>
<path d="M574,125 L574,139.5" fill="none" stroke="#727272" stroke-width="1.0" stroke-linejoin="round" stroke-linecap="round"/>
<path d="M577.5,123 L577.5,138" fill="none" stroke="#727272" stroke-width="1.0" stroke-linejoin="round" stroke-linecap="round"/>
<path d="M712.5,232.5 L716.25,230 L765,237.5 L766.9,242.5 L765.6,258.75 L720.6,260 L717.5,256.25 L712.5,252.5 L712.5,232.5" fill="none" stroke="#727272" stroke-width="1.4" stroke-linejoin="round" stroke-linecap="round"/>
<path d="M716.25,230 L720,238.75 L766.9,242.5" fill="none" stroke="#727272" stroke-width="1.25" stroke-linejoin="round" stroke-linecap="round"/>
<path d="M720,238.75 L720.6,260" fill="none" stroke="#727272" stroke-width="1.25" stroke-linejoin="round" stroke-linecap="round"/>
<ellipse cx="727.5" cy="249.4" rx="2.5" ry="2.5" fill="none" stroke="#727272" stroke-width="1.2"/>
<ellipse cx="755" cy="250.6" rx="2.5" ry="2.5" fill="none" stroke="#727272" stroke-width="1.2"/>
<path d="M757.5,206.9 L761.25,204.4 L776.25,215 L777.5,217.5 L776.9,246.25 L773.1,250 L770,248.75 L768,247" fill="none" stroke="#727272" stroke-width="1.3" stroke-linejoin="round" stroke-linecap="round"/>
<path d="M759.5,209 L762,207 L774.5,216 L775,218.5 L774.5,244" fill="none" stroke="#727272" stroke-width="1.0" stroke-linejoin="round" stroke-linecap="round"/>
<path d="M733.75,230 L762.5,215 L771.25,218.75 L771.25,236 L766.9,238" fill="none" stroke="#727272" stroke-width="1.25" stroke-linejoin="round" stroke-linecap="round"/>
<path d="M746,227 L752,233" fill="none" stroke="#727272" stroke-width="1.0" stroke-linejoin="round" stroke-linecap="round"/>
<path d="M752,222 L758,230" fill="none" stroke="#727272" stroke-width="1.0" stroke-linejoin="round" stroke-linecap="round"/>
<path d="M762.5,215 L762.5,236" fill="none" stroke="#727272" stroke-width="1.0" stroke-linejoin="round" stroke-linecap="round"/>
<path d="M651.9,164.4 L642.55,177.07" stroke="#808080" stroke-width="1.6" fill="none"/>
<path d="M638.1,183.1 L639.45,173.53 L646.85,178.99 Z" fill="#808080"/>
<path d="M441.25,156.25 L445,153.1 L448.75,151.9 L453.1,161.9 L453.75,173.75 L455,175.6 L470,192.5 L478.75,202.5 L479.4,210 L486.25,225 L488.75,228.75 L492.5,228.5" fill="none" stroke="#727272" stroke-width="1.4" stroke-linejoin="round" stroke-linecap="round"/>
<path d="M441.25,156.25 C441.04,159.79 439.79,170.83 440,177.5 C440.21,184.17 440.62,190 442.5,196.25 C444.38,202.5 448.12,208.12 451.25,215 C454.38,221.88 458.79,232.67 461.25,237.5 C463.71,242.33 464.96,241.58 466,244 C467.04,246.42 466.83,250 467.5,252 C468.17,254 464.58,251.75 470,256 C475.42,260.25 485.42,268.08 500,277.5 C514.58,286.92 541.04,303.54 557.5,312.5 C573.96,321.46 590,327.83 598.75,331.25 C607.5,334.67 604.38,333.11 610,333 C615.62,332.89 628.75,331 632.5,330.6" fill="none" stroke="#727272" stroke-width="1.4" stroke-linejoin="round" stroke-linecap="round"/>
<path d="M632.5,330.6 L695,330 L702.5,325 L704.4,316.25 L703.1,312.5 L703.75,301.25 L701.25,298.1 L667.5,295 L661.25,298.1 L655,295 L653.75,291.25 L632.5,290 L616.25,290.6 L610,291.25 L600,293.75 L593.1,295" fill="none" stroke="#727272" stroke-width="1.4" stroke-linejoin="round" stroke-linecap="round"/>
<path d="M445,153.1 L452,163 L453.1,175" fill="none" stroke="#727272" stroke-width="1.25" stroke-linejoin="round" stroke-linecap="round"/>
<path d="M443,157 L447.5,186" fill="none" stroke="#727272" stroke-width="1.25" stroke-linejoin="round" stroke-linecap="round"/>
<path d="M447.5,186 L453,172" fill="none" stroke="#727272" stroke-width="1.25" stroke-linejoin="round" stroke-linecap="round"/>
<path d="M447.5,186 L457,182 L470,193" fill="none" stroke="#727272" stroke-width="1.25" stroke-linejoin="round" stroke-linecap="round"/>
<path d="M452.5,190 L455,189 L456,202 L454.5,212" fill="none" stroke="#727272" stroke-width="1.25" stroke-linejoin="round" stroke-linecap="round"/>
<path d="M460,205 L470,199" fill="none" stroke="#727272" stroke-width="1.25" stroke-linejoin="round" stroke-linecap="round"/>
<path d="M465.5,214 L474,208" fill="none" stroke="#727272" stroke-width="1.25" stroke-linejoin="round" stroke-linecap="round"/>
<path d="M458,188 L478,210" fill="none" stroke="#727272" stroke-width="1.25" stroke-linejoin="round" stroke-linecap="round"/>
<path d="M487.5,230 L492.5,228.75 L507.5,242.5 L508.1,247.5 L503.1,249.4 L488.75,236.25 L487.5,230" fill="none" stroke="#727272" stroke-width="1.25" stroke-linejoin="round" stroke-linecap="round"/>
<path d="M488.75,236.25 L492.5,235 L507.5,242.5" fill="none" stroke="#727272" stroke-width="1.25" stroke-linejoin="round" stroke-linecap="round"/>
<path d="M492.5,235 L492.5,228.75" fill="none" stroke="#727272" stroke-width="1.25" stroke-linejoin="round" stroke-linecap="round"/>
<path d="M503.1,249.4 L503.1,243" fill="none" stroke="#727272" stroke-width="1.25" stroke-linejoin="round" stroke-linecap="round"/>
<path d="M524.4,257.5 L528.75,255 L547.5,266.25 L547.5,272.5 L543.1,274.4 L525,263.75 L524.4,257.5" fill="none" stroke="#727272" stroke-width="1.25" stroke-linejoin="round" stroke-linecap="round"/>
<path d="M525,263.75 L528.75,262 L547.5,272.5" fill="none" stroke="#727272" stroke-width="1.25" stroke-linejoin="round" stroke-linecap="round"/>
<path d="M543.1,274.4 L543.1,268" fill="none" stroke="#727272" stroke-width="1.25" stroke-linejoin="round" stroke-linecap="round"/>
<path d="M566.25,278.75 L570,277 L592.5,287.5 L593.1,295.6 L587.5,296.9 L566.25,286.9 L566.25,278.75" fill="none" stroke="#727272" stroke-width="1.25" stroke-linejoin="round" stroke-linecap="round"/>
<path d="M566.25,286.9 L570,285 L593.1,295.6" fill="none" stroke="#727272" stroke-width="1.25" stroke-linejoin="round" stroke-linecap="round"/>
<path d="M587.5,296.9 L587.5,290" fill="none" stroke="#727272" stroke-width="1.25" stroke-linejoin="round" stroke-linecap="round"/>
<path d="M508,248 L524.4,257.5" fill="none" stroke="#727272" stroke-width="1.25" stroke-linejoin="round" stroke-linecap="round"/>
<path d="M547.5,268 L566.25,278.75" fill="none" stroke="#727272" stroke-width="1.25" stroke-linejoin="round" stroke-linecap="round"/>
<path d="M492.5,240 C494.58,241.83 499.58,247 505,251 C510.42,255 518.33,260 525,264 C531.67,268 538.17,271.17 545,275 C551.83,278.83 562.5,285 566,287" fill="none" stroke="#727272" stroke-width="1.25" stroke-linejoin="round" stroke-linecap="round"/>
<path d="M478.75,214 C482.29,220.33 493.12,244 500,252 C506.88,260 512.5,257.33 520,262 C527.5,266.67 537.17,275.33 545,280 C552.83,284.67 557.83,286 567,290 C576.17,294 587.83,301.33 600,304 C612.17,306.67 623.75,306.46 640,306 C656.25,305.54 687.92,302.04 697.5,301.25" fill="none" stroke="#727272" stroke-width="1.25" stroke-linejoin="round" stroke-linecap="round"/>
<path d="M483,252.5 L497.5,261 L497.5,272.5 L483,264 L483,252.5" fill="none" stroke="#727272" stroke-width="1.25" stroke-linejoin="round" stroke-linecap="round"/>
<path d="M487,258 L497.5,264" fill="none" stroke="#727272" stroke-width="1.25" stroke-linejoin="round" stroke-linecap="round"/>
<path d="M500,255 L505,254 L518.75,261.25 L513.75,272.5 L501,266 L500,255" fill="none" stroke="#727272" stroke-width="1.25" stroke-linejoin="round" stroke-linecap="round"/>
<path d="M505,254 L505,266" fill="none" stroke="#727272" stroke-width="1.25" stroke-linejoin="round" stroke-linecap="round"/>
<path d="M523.1,277.5 L532.5,282.5 L532.5,288.1 L523.1,283.1 L523.1,277.5" fill="none" stroke="#727272" stroke-width="1.25" stroke-linejoin="round" stroke-linecap="round"/>
<path d="M560,296.9 L576.25,306.25 L576.25,316.9 L560,307.5 L560,296.9" fill="none" stroke="#727272" stroke-width="1.25" stroke-linejoin="round" stroke-linecap="round"/>
<path d="M565,301 L576,307.5" fill="none" stroke="#727272" stroke-width="1.25" stroke-linejoin="round" stroke-linecap="round"/>
<path d="M565,301 L565,309.5" fill="none" stroke="#727272" stroke-width="1.25" stroke-linejoin="round" stroke-linecap="round"/>
<path d="M540.6,278 L547,276 L560,283 L558,296 L541,288 L540.6,278" fill="none" stroke="#727272" stroke-width="1.25" stroke-linejoin="round" stroke-linecap="round"/>
<path d="M572,296 L580,293 L588,297 L584,303" fill="none" stroke="#727272" stroke-width="1.25" stroke-linejoin="round" stroke-linecap="round"/>
<path d="M610,302 L617.5,292 L622.5,294 L632.5,290" fill="none" stroke="#727272" stroke-width="1.25" stroke-linejoin="round" stroke-linecap="round"/>
<path d="M625,306 L632.5,298 L646,297 L646,303 L656,299 L660,297.5" fill="none" stroke="#727272" stroke-width="1.25" stroke-linejoin="round" stroke-linecap="round"/>
<path d="M638,311 L637.5,304 L646,303" fill="none" stroke="#727272" stroke-width="1.25" stroke-linejoin="round" stroke-linecap="round"/>
<path d="M651,307 L660,297.5" fill="none" stroke="#727272" stroke-width="1.25" stroke-linejoin="round" stroke-linecap="round"/>
<path d="M697.5,301.25 L682.5,307.5 L628.75,309.4 L623.75,312.5" fill="none" stroke="#727272" stroke-width="1.25" stroke-linejoin="round" stroke-linecap="round"/>
<path d="M699.4,305 L699.4,325" fill="none" stroke="#727272" stroke-width="1.25" stroke-linejoin="round" stroke-linecap="round"/>
<path d="M610,323.75 L647.5,326.25 L683.75,326.25 L686.25,330" fill="none" stroke="#727272" stroke-width="1.25" stroke-linejoin="round" stroke-linecap="round"/>
<path d="M598.75,321.5 L598.75,331.25" fill="none" stroke="#727272" stroke-width="1.25" stroke-linejoin="round" stroke-linecap="round"/>
<path d="M598.75,321.5 L610,323.75" fill="none" stroke="#727272" stroke-width="1.25" stroke-linejoin="round" stroke-linecap="round"/>
<path d="M543.75,332.5 L553.64,319.13" stroke="#808080" stroke-width="1.6" fill="none"/>
<path d="M558.1,313.1 L556.74,322.67 L549.35,317.2 Z" fill="#808080"/>
<path d="M510,213.75 L515,211.9 L535,223.75 L536.9,232.5 L540,235 L540,238.75 L535.6,240 L532.5,236.25 L529.4,236.9 L525,231.9 L521.25,229.4 L513.75,226.25 L510,223.75 L510,213.75" fill="none" stroke="#727272" stroke-width="1.3" stroke-linejoin="round" stroke-linecap="round"/>
<path d="M510,215 L530,226.25 L535,224.4" fill="none" stroke="#727272" stroke-width="1.25" stroke-linejoin="round" stroke-linecap="round"/>
<path d="M530,226.25 L530.6,235" fill="none" stroke="#727272" stroke-width="1.25" stroke-linejoin="round" stroke-linecap="round"/>
<path d="M521.9,196 L521.9,210.1" stroke="#808080" stroke-width="1.6" fill="none"/>
<path d="M521.9,215.6 L517.9,209.1 L525.9,209.1 Z" fill="#808080"/>
<path d="M466.25,412.5 L468.75,406.9 L472.5,407.5 L475.6,411.9 L482.5,412.5 L488.75,416.9 L488.1,421.9" fill="none" stroke="#727272" stroke-width="1.3" stroke-linejoin="round" stroke-linecap="round"/>
<path d="M466.25,412.5 L467.5,415 L465,419.4 L467.5,426.25 L473.75,432.5 L482.5,447.5 L505,462.5 L510,468.5 L516,479 L522,480.5 L540,495.5 L562.5,512 L618,534.5 L624,535.25 L627,531.5" fill="none" stroke="#727272" stroke-width="1.4" stroke-linejoin="round" stroke-linecap="round"/>
<path d="M488.1,421.9 L546,454.25 L549,458 L567,467 L573,464.75 L580.5,465.5 L607.5,479.75 L615,480.5 L618.75,485 L624.75,482.75 L627,486.5 L626.25,491.75 L621.75,493.25 L618,500 L627,531.5" fill="none" stroke="#727272" stroke-width="1.4" stroke-linejoin="round" stroke-linecap="round"/>
<path d="M618.75,485 L618,500" fill="none" stroke="#727272" stroke-width="1.25" stroke-linejoin="round" stroke-linecap="round"/>
<path d="M469,412 L471.25,418 L487,419.5" fill="none" stroke="#727272" stroke-width="1.25" stroke-linejoin="round" stroke-linecap="round"/>
<path d="M471.25,418 L471.25,428" fill="none" stroke="#727272" stroke-width="1.25" stroke-linejoin="round" stroke-linecap="round"/>
<path d="M471.25,420 C477.71,423.83 489.54,432.42 510,443 C530.46,453.58 577.75,476.25 594,483.5 C610.25,490.75 605.25,486 607.5,486.5" fill="none" stroke="#727272" stroke-width="1.25" stroke-linejoin="round" stroke-linecap="round"/>
<path d="M607.5,486.5 L624,531.5" fill="none" stroke="#727272" stroke-width="1.25" stroke-linejoin="round" stroke-linecap="round"/>
<path d="M475.6,427.5 C481.33,431.08 490.52,438.67 510,449 C529.48,459.33 577.25,482.25 592.5,489.5 C607.75,496.75 600,492 601.5,492.5" fill="none" stroke="#727272" stroke-width="1.25" stroke-linejoin="round" stroke-linecap="round"/>
<path d="M601.5,492.5 L618,530" fill="none" stroke="#727272" stroke-width="1.25" stroke-linejoin="round" stroke-linecap="round"/>
<path d="M477.5,435 C482.92,438.33 501.83,450.42 510,455 C518.17,459.58 513,456.12 526.5,462.5 C540,468.88 580.25,488.12 591,493.25" fill="none" stroke="#727272" stroke-width="1.25" stroke-linejoin="round" stroke-linecap="round"/>
<path d="M525.75,462.5 L548.25,491 L580.5,506.75 L598.5,515.75 L591,493.25" fill="none" stroke="#727272" stroke-width="1.25" stroke-linejoin="round" stroke-linecap="round"/>
<path d="M579.75,495.5 L591.75,494" fill="none" stroke="#727272" stroke-width="1.25" stroke-linejoin="round" stroke-linecap="round"/>
<path d="M579.75,495.5 L584.25,509" fill="none" stroke="#727272" stroke-width="1.25" stroke-linejoin="round" stroke-linecap="round"/>
<path d="M511.25,456.25 L540,494.5 L600,521" fill="none" stroke="#727272" stroke-width="1.25" stroke-linejoin="round" stroke-linecap="round"/>
<path d="M505,452.5 L523.75,481.25" fill="none" stroke="#727272" stroke-width="1.25" stroke-linejoin="round" stroke-linecap="round"/>
<path d="M579,469.25 L582,467.75 L597,476 L595.5,480.5 L579,472.25 L579,469.25" fill="none" stroke="#727272" stroke-width="1.25" stroke-linejoin="round" stroke-linecap="round"/>
<path d="M564,570 L564,520" stroke="#808080" stroke-width="1.6" fill="none"/>
<path d="M564,512.5 L568.6,521 L559.4,521 Z" fill="#808080"/>
<path d="M564,570 L646.5,570" fill="none" stroke="#808080" stroke-width="1.6" stroke-linejoin="round" stroke-linecap="round"/>
<path d="M646.5,570 L646.5,558" fill="none" stroke="#808080" stroke-width="1.6" stroke-linejoin="round" stroke-linecap="round"/>
<path d="M607.5,570 L607.5,577" fill="none" stroke="#808080" stroke-width="1.6" stroke-linejoin="round" stroke-linecap="round"/>
<path d="M441.1,443.25 L441.1,460.6" stroke="#808080" stroke-width="1.6" fill="none"/>
<path d="M441.1,466.9 L436.8,459.6 L445.4,459.6 Z" fill="#808080"/>
<path d="M436.9,469.7 L441.4,467.1 L448.2,468.9 L442,472.3 L436.9,469.7" fill="none" stroke="#727272" stroke-width="1.3" stroke-linejoin="round" stroke-linecap="round"/>
<path d="M436.9,469.7 L432.4,478.1" fill="none" stroke="#727272" stroke-width="1.3" stroke-linejoin="round" stroke-linecap="round"/>
<path d="M448.2,468.9 L451.6,477.6" fill="none" stroke="#727272" stroke-width="1.3" stroke-linejoin="round" stroke-linecap="round"/>
<path d="M442,472.3 L442,479.8" fill="none" stroke="#727272" stroke-width="1.25" stroke-linejoin="round" stroke-linecap="round"/>
<path d="M435.25,473 L442,475.3 L449.3,472.5" fill="none" stroke="#727272" stroke-width="1.25" stroke-linejoin="round" stroke-linecap="round"/>
<path d="M432.4,478.1 L427.4,479.8 L442,484.9 L454.4,480.4 L451.6,477.6" fill="none" stroke="#727272" stroke-width="1.3" stroke-linejoin="round" stroke-linecap="round"/>
<path d="M432.4,478.1 L442,479.8 L451.6,477.6" fill="none" stroke="#727272" stroke-width="1.25" stroke-linejoin="round" stroke-linecap="round"/>
<path d="M427.4,479.8 L427.9,483.7 L442,490.5 L454.4,484.3 L454.4,480.4" fill="none" stroke="#727272" stroke-width="1.3" stroke-linejoin="round" stroke-linecap="round"/>
<path d="M442,484.9 L442,490.5" fill="none" stroke="#727272" stroke-width="1.25" stroke-linejoin="round" stroke-linecap="round"/>
<path d="M461,614.5 L444,614.5" stroke="#808080" stroke-width="1.6" fill="none"/>
<path d="M438.5,614.5 L445,610.3 L445,618.7 Z" fill="#808080"/>
<path d="M410,594 L431,587 L430,580" fill="none" stroke="#727272" stroke-width="1.3" stroke-linejoin="round" stroke-linecap="round"/>
<path d="M420.5,589.5 L420.5,580" fill="none" stroke="#727272" stroke-width="1.25" stroke-linejoin="round" stroke-linecap="round"/>
<ellipse cx="433.2" cy="601" rx="4.3" ry="1.7" fill="none" stroke="#727272" stroke-width="1.2"/>
<path d="M428.9,601 L428.9,634" fill="none" stroke="#727272" stroke-width="1.3" stroke-linejoin="round" stroke-linecap="round"/>
<path d="M437.5,601 L437.5,634" fill="none" stroke="#727272" stroke-width="1.3" stroke-linejoin="round" stroke-linecap="round"/>
<path d="M428.9,605 Q433.2,608 437.5,605" fill="none" stroke="#727272" stroke-width="1.0" stroke-linejoin="round" stroke-linecap="round"/>
<path d="M428.9,611 Q433.2,614 437.5,611" fill="none" stroke="#727272" stroke-width="1.0" stroke-linejoin="round" stroke-linecap="round"/>
<path d="M428.9,617.5 Q433.2,620.5 437.5,617.5" fill="none" stroke="#727272" stroke-width="1.0" stroke-linejoin="round" stroke-linecap="round"/>
<path d="M428.9,624 Q433.2,627 437.5,624" fill="none" stroke="#727272" stroke-width="1.0" stroke-linejoin="round" stroke-linecap="round"/>
<path d="M428.9,630.5 Q433.2,633.5 437.5,630.5" fill="none" stroke="#727272" stroke-width="1.0" stroke-linejoin="round" stroke-linecap="round"/>
<path d="M422.2,634 A11,5.5 0 1 0 444.2,634 A11,5.5 0 1 0 422.2,634 Z" fill="none" stroke="#727272" stroke-width="1.3"/>
<path d="M428.9,634 Q433.2,637 437.5,634" fill="none" stroke="#727272" stroke-width="1.0" stroke-linejoin="round" stroke-linecap="round"/>
<path d="M422.5,636 L425,640 L426.5,645 L430,647.5 L438,647.5 L441,645 L442,640 L444,636" fill="none" stroke="#727272" stroke-width="1.3" stroke-linejoin="round" stroke-linecap="round"/>
<path d="M430.5,640.5 L430.5,647" fill="none" stroke="#727272" stroke-width="1.0" stroke-linejoin="round" stroke-linecap="round"/>
<path d="M437,640.5 L437,647" fill="none" stroke="#727272" stroke-width="1.0" stroke-linejoin="round" stroke-linecap="round"/>
<path d="M425,640 L430.5,640.5 L437,640.5 L442,640" fill="none" stroke="#727272" stroke-width="1.0" stroke-linejoin="round" stroke-linecap="round"/>
<path d="M740.6,423.25 L740.6,429.6" fill="none" stroke="#808080" stroke-width="1.6" stroke-linejoin="round" stroke-linecap="round"/>
<path d="M729.1,441.6 L729.1,429.6 L751.6,429.6 L751.6,520" fill="none" stroke="#808080" stroke-width="1.6" stroke-linejoin="round" stroke-linecap="round"/>
<path d="M751.6,500 L751.6,520.75" stroke="#808080" stroke-width="1.6" fill="none"/>
<path d="M751.6,526.25 L747.3,519.75 L755.9,519.75 Z" fill="#808080"/>
<path d="M710.6,521.25 L703.1,517.5 L691.9,518.1 L685.6,528.75 L686.25,530 L751.25,553.75 L771.9,548.1 L775.6,538.75 L768.75,535.6 L755,536.25" fill="none" stroke="#727272" stroke-width="1.3" stroke-linejoin="round" stroke-linecap="round"/>
<path d="M719,524.5 L747,533" fill="none" stroke="#727272" stroke-width="1.3" stroke-linejoin="round" stroke-linecap="round"/>
<path d="M692.5,520 L751.25,544.4 L775.6,538.75" fill="none" stroke="#727272" stroke-width="1.25" stroke-linejoin="round" stroke-linecap="round"/>
<path d="M751.25,544.4 L751.25,553.75" fill="none" stroke="#727272" stroke-width="1.25" stroke-linejoin="round" stroke-linecap="round"/>
<path d="M693.75,526.25 L750,546.25" fill="none" stroke="#727272" stroke-width="1.25" stroke-linejoin="round" stroke-linecap="round"/>
<path d="M756.25,546.25 L770,543.75" fill="none" stroke="#727272" stroke-width="1.25" stroke-linejoin="round" stroke-linecap="round"/>
<path d="M704.75,541 L704.75,543.5 A3,1.8 0 0 0 710.75,543.5 L710.75,541.5" fill="none" stroke="#727272" stroke-width="1.2"/>
<path d="M711.9,518.75 L711.9,523.75 A3.7,1.9 0 0 0 719.3,523.75 L719.3,518.75" fill="#fff" stroke="#727272" stroke-width="1.2"/>
<ellipse cx="715.6" cy="518.75" rx="3.7" ry="1.9" fill="none" stroke="#727272" stroke-width="1.2"/>
<path d="M746.9,529 L746.9,535 A3.7,1.9 0 0 0 754.3,535 L754.3,529" fill="#fff" stroke="#727272" stroke-width="1.2"/>
<ellipse cx="750.6" cy="529" rx="3.7" ry="1.9" fill="none" stroke="#727272" stroke-width="1.2"/>
<path d="M646.6,527.75 L646.6,518.4" stroke="#808080" stroke-width="1.6" fill="none"/>
<path d="M646.6,510.9 L651.2,519.4 L642,519.4 Z" fill="#808080"/>
<path d="M661.5,488.5 L667,487.8 L670.5,491.5 L671,498.5 L668,502.5 L663,503.5" fill="none" stroke="#727272" stroke-width="1.3" stroke-linejoin="round" stroke-linecap="round"/>
<path d="M666,489.5 L668,495 L667.5,502" fill="none" stroke="#727272" stroke-width="1.0" stroke-linejoin="round" stroke-linecap="round"/>
<path d="M668,495 L671,494" fill="none" stroke="#727272" stroke-width="1.0" stroke-linejoin="round" stroke-linecap="round"/>
<path transform="translate(634.25 510.25) rotate(-24.4)" d="M0,0 L3.24,-3.6 L23,-3.6 M0,0 L3.24,3.6 L23,3.6 M3.24,-3.6 Q5.4,0 3.24,3.6 M7,-3.6 Q9.16,0 7,3.6 M11,-3.6 Q13.16,0 11,3.6 M15,-3.6 Q17.16,0 15,3.6 M19,-3.6 Q21.16,0 19,3.6" fill="none" stroke="#727272" stroke-width="1.25" stroke-linejoin="round"/>
<ellipse cx="659.5" cy="497.3" rx="5.3" ry="8.1" transform="rotate(18 659.5 497.3)" fill="#fff" stroke="#727272" stroke-width="1.4"/>
<ellipse cx="658.3" cy="498.6" rx="2.7" ry="4.4" transform="rotate(18 658.3 498.6)" fill="none" stroke="#727272" stroke-width="1.1"/>
<path d="M729.4,472.5 L729.4,483.9" stroke="#808080" stroke-width="1.6" fill="none"/>
<path d="M729.4,489.4 L725.1,482.9 L733.7,482.9 Z" fill="#808080"/>
<path d="M719.4,503.8 L719.6,507 A7.5,3.6 0 0 0 734.4,507.6 L734.4,504.4" fill="none" stroke="#727272" stroke-width="1.3"/>
<ellipse cx="726.9" cy="504.1" rx="7.5" ry="3.6" fill="none" stroke="#727272" stroke-width="1.3"/>
<path d="M725.6,493.9 L723.6,501.3 A4.4,1.9 0 0 0 732.4,502 L734.4,493.9" fill="#fff" stroke="#727272" stroke-width="1.3"/>
<ellipse cx="730" cy="493.75" rx="4.4" ry="1.9" fill="none" stroke="#727272" stroke-width="1.2"/>
<path d="M724.5,497.5 Q728.5,500 733.5,497.8" fill="none" stroke="#727272" stroke-width="1.0" stroke-linejoin="round" stroke-linecap="round"/>
<path d="M692.5,613 L692.5,595" stroke="#808080" stroke-width="1.6" fill="none"/>
<path d="M692.5,589 L696.7,596 L688.3,596 Z" fill="#808080"/>
<path transform="translate(703.9 553.6) rotate(110.8)" d="M0,0 L2.7,-3 L25,-3 M0,0 L2.7,3 L25,3 M2.7,-3 Q4.5,0 2.7,3 M6,-3 Q7.8,0 6,3 M10,-3 Q11.8,0 10,3 M14,-3 Q15.8,0 14,3 M18,-3 Q19.8,0 18,3 M22,-3 Q23.8,0 22,3" fill="none" stroke="#727272" stroke-width="1.25" stroke-linejoin="round"/>
<path d="M686,580.5 L686.4,585.5 L690.3,588.7 L697,588.2 L700.4,584.5 L700.4,580.5" fill="none" stroke="#727272" stroke-width="1.3" stroke-linejoin="round" stroke-linecap="round"/>
<path d="M690.3,583.5 L690.3,588.7" fill="none" stroke="#727272" stroke-width="1.0" stroke-linejoin="round" stroke-linecap="round"/>
<path d="M696.5,583.8 L697,588.2" fill="none" stroke="#727272" stroke-width="1.0" stroke-linejoin="round" stroke-linecap="round"/>
<ellipse cx="693.2" cy="579.6" rx="7.3" ry="4" fill="#fff" stroke="#727272" stroke-width="1.3"/>
<path d="M689.5,578.8 Q693,581.5 696.8,579.3" fill="none" stroke="#727272" stroke-width="1.0" stroke-linejoin="round" stroke-linecap="round"/>
<path d="M763,620.5 L763,602.5" stroke="#808080" stroke-width="1.6" fill="none"/>
<path d="M763,596.5 L767.2,603.5 L758.8,603.5 Z" fill="#808080"/>
<path transform="translate(736.9 571.5) rotate(22.7)" d="M0,0 L2.79,-3.1 L27,-3.1 M0,0 L2.79,3.1 L27,3.1 M2.79,-3.1 Q4.65,0 2.79,3.1 M6,-3.1 Q7.86,0 6,3.1 M10,-3.1 Q11.86,0 10,3.1 M14,-3.1 Q15.86,0 14,3.1 M18,-3.1 Q19.86,0 18,3.1 M22,-3.1 Q23.86,0 22,3.1" fill="none" stroke="#727272" stroke-width="1.25" stroke-linejoin="round"/>
<ellipse cx="766.5" cy="584" rx="7.2" ry="9.4" fill="#fff" stroke="#727272" stroke-width="1.4"/>
<path d="M763,578.4 L770,577 L774,582.5 L771.3,589.4 L764.4,590.8 L761,585.3 L763,578.4" fill="none" stroke="#727272" stroke-width="1.2" stroke-linejoin="round" stroke-linecap="round"/>
<path d="M763,578.4 L766,583.5 L774,582.5" fill="none" stroke="#727272" stroke-width="1.0" stroke-linejoin="round" stroke-linecap="round"/>
<path d="M766,583.5 L764.4,590.8" fill="none" stroke="#727272" stroke-width="1.0" stroke-linejoin="round" stroke-linecap="round"/>
<g font-family="Liberation Sans" font-size="31" fill="#808080"><path d="M27.9,416.9 L34.1,411.2 L36.5,411.2 L36.5,433.2 L33.8,433.2 L33.8,414.9 L28.9,419.2 Z" fill="#808080"/><path d="M88.85,592.1 L95.05,586.4 L97.45,586.4 L97.45,608.4 L94.75,608.4 L94.75,590.1 L89.85,594.4 Z" fill="#111"/><text x="102.9" y="608.4" fill="#111">7</text><text x="170.6" y="136.6">9</text><path d="M107.1,245.2 L113.3,239.5 L115.7,239.5 L115.7,261.5 L113,261.5 L113,243.2 L108.1,247.5 Z" fill="#808080"/><text x="121.1" y="261.5" fill="#808080">0</text><text x="326.8" y="197.8">8</text><path d="M650.1,145.9 L656.3,140.2 L658.7,140.2 L658.7,162.2 L656,162.2 L656,143.9 L651.1,148.2 Z" fill="#808080"/><text x="664.1" y="162.2" fill="#808080">6</text><path d="M511.4,173.1 L517.6,167.4 L520,167.4 L520,189.4 L517.3,189.4 L517.3,171.1 L512.4,175.4 Z" fill="#808080"/><text x="524.8" y="189.4" fill="#808080">5</text><path d="M516.6,340.6 L522.8,334.9 L525.2,334.9 L525.2,356.9 L522.5,356.9 L522.5,338.6 L517.6,342.9 Z" fill="#808080"/><text x="530.2" y="356.9" fill="#808080">4</text><path d="M449.2,364.9 L455.4,359.2 L457.8,359.2 L457.8,381.2 L455.1,381.2 L455.1,362.9 L450.2,367.2 Z" fill="#808080"/><path d="M466.2,364.9 L472.4,359.2 L474.8,359.2 L474.8,381.2 L472.1,381.2 L472.1,362.9 L467.2,367.2 Z" fill="#808080"/><text x="433.8" y="437.1">2</text><text x="732.5" y="419.4">4</text><text x="723.1" y="468.8">5</text><text x="463.8" y="626.5">3</text><path d="M597,585.9 L603.2,580.2 L605.6,580.2 L605.6,602.2 L602.9,602.2 L602.9,583.9 L598,588.2 Z" fill="#808080"/><text x="611" y="602.2" fill="#808080">2</text><path d="M635.1,538.1 L641.3,532.4 L643.7,532.4 L643.7,554.4 L641,554.4 L641,536.1 L636.1,540.4 Z" fill="#808080"/><text x="649.1" y="554.4" fill="#808080">3</text><text x="685" y="637.9">7</text><text x="756.6" y="646.9">6</text></g>
</svg>
<div id="banner"><div id="l1" style="top:4.9px">Only one part or sub-assembly in diagram included. See Item Specifics for Reference #.</div><div id="l2" style="top:26.4px;transform:scaleX(0.9433)">Diagram may not be specific to your vehicle. See Compatibility for vehicle-specific diagrams.</div></div>
</body></html>
